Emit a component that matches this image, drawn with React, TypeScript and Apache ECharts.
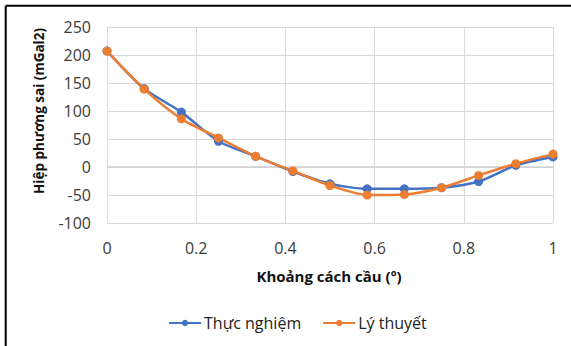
import React, { useEffect, useRef } from "react";
import * as echarts from "echarts";

// Spherical distance (degrees), sampled every 1/12 degree
const distances = [0, 1, 2, 3, 4, 5, 6, 7, 8, 9, 10, 11, 12].map((k) => k / 12);
// Empirical covariance (mGal2)
const measured = [207, 140, 98, 46, 19, -8, -30, -39, -39, -37, -26, 3, 18];
// Theoretical covariance model (mGal2)
const theoretical = [207, 139, 86, 52, 19, -7, -33, -50, -49, -37, -15, 6, 23];

const seriesNames = ["Thực nghiệm", "Lý thuyết"];
const xTitle = "Khoảng cách cầu (º)";
const yTitle = "Hiệp phương sai (mGal2)";

const BLUE = "#4472C4";
const ORANGE = "#ED7D31";
const FONT = "'Open Sans', sans-serif";

export default function App() {
  const ref = useRef<HTMLDivElement>(null);

  useEffect(() => {
    if (!ref.current) return;
    const chart = echarts.init(ref.current, null, { renderer: "svg" });
    const pairs = (ys: number[]) => ys.map((y, i) => [distances[i], y]);

    chart.setOption({
      animation: false,
      backgroundColor: "#fff",
      textStyle: { fontFamily: FONT },
      grid: { left: 107, right: 18, top: 27, bottom: 123 },
      xAxis: {
        type: "value",
        min: 0,
        max: 1,
        interval: 0.2,
        axisLine: { show: false },
        axisTick: { show: false },
        axisLabel: {
          color: "#3a3a3a",
          fontSize: 16,
          margin: 17,
          fontFamily: FONT,
          formatter: (v: number) => String(+v.toFixed(1)),
        },
        splitLine: { show: true, lineStyle: { color: "#d9d9d9", width: 1 } },
      },
      yAxis: {
        type: "value",
        min: -100,
        max: 250,
        interval: 50,
        axisLine: { show: false },
        axisTick: { show: false },
        axisLabel: { color: "#3a3a3a", fontSize: 16, margin: 16, fontFamily: FONT },
        splitLine: { show: true, lineStyle: { color: "#d9d9d9", width: 1 } },
      },
      legend: {
        data: seriesNames,
        left: 163,
        top: 310,
        itemWidth: 32,
        itemHeight: 8,
        itemGap: 21,
        textStyle: { color: "#222", fontSize: 16, fontFamily: FONT, padding: [0, 0, 0, -2] },
      },
      graphic: [
        {
          type: "text",
          x: 329,
          y: 276,
          style: {
            text: xTitle,
            font: `bold 15px ${FONT}`,
            fill: "#111",
            align: "center",
            verticalAlign: "middle",
          },
        },
        {
          type: "text",
          x: 39,
          y: 111,
          rotation: Math.PI / 2,
          style: {
            text: yTitle,
            font: `bold 13.5px ${FONT}`,
            fill: "#111",
            align: "center",
            verticalAlign: "middle",
          },
        },
        {
          type: "line",
          shape: { x1: 5.7, y1: 5.7, x2: 571, y2: 5.7 },
          style: { stroke: "#000", lineWidth: 2 },
        },
        {
          type: "line",
          shape: { x1: 5.7, y1: 5.7, x2: 5.7, y2: 346 },
          style: { stroke: "#000", lineWidth: 2 },
        },
      ],
      series: [
        {
          name: seriesNames[0],
          type: "line",
          data: pairs(measured),
          smooth: 0.25,
          symbol: "circle",
          symbolSize: 9,
          itemStyle: { color: BLUE },
          lineStyle: { color: BLUE, width: 2.5 },
          markLine: {
            silent: true,
            symbol: "none",
            label: { show: false },
            lineStyle: { color: "#cfcfcf", width: 1.5, type: "solid" },
            data: [{ yAxis: 0 }],
            z: 1,
          },
        },
        {
          name: seriesNames[1],
          type: "line",
          data: pairs(theoretical),
          smooth: 0.25,
          symbol: "circle",
          symbolSize: 9,
          itemStyle: { color: ORANGE },
          lineStyle: { color: ORANGE, width: 2.5 },
        },
      ],
    });

    return () => chart.dispose();
  }, []);

  return (
    <div
      ref={ref}
      style={{ position: "fixed", left: 0, top: 0, width: 571, height: 346 }}
    />
  );
}
